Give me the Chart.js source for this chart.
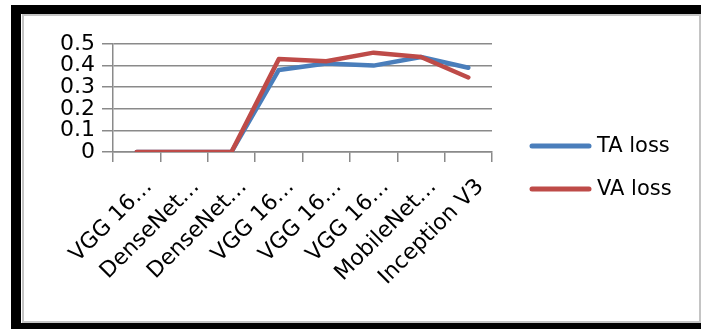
<!DOCTYPE html>
<html>
<head>
<meta charset="utf-8">
<script src="https://cdn.jsdelivr.net/npm/chart.js@4.4.1/dist/chart.umd.min.js"></script>
<style>
  html, body { margin: 0; padding: 0; background: #fff; width: 701px; height: 329px; overflow: hidden; }
  .band { position: absolute; background: #000; }
  #inner { position: absolute; left: 22px; top: 14px; width: 679px; height: 309px; box-sizing: border-box; border: 2px solid #c4c4c4; }
  #c { position: absolute; left: 0; top: 0; }
</style>
</head>
<body>
<div class="band" style="left:11px;top:5px;width:690px;height:9px"></div>
<div class="band" style="left:11px;top:5px;width:10px;height:324px"></div>
<div class="band" style="left:11px;top:323px;width:690px;height:6px"></div>
<div id="inner"></div>
<canvas id="c" width="701" height="329"></canvas>
<script>
const categories = ["VGG 16…", "DenseNet…", "DenseNet…", "VGG 16…", "VGG 16…", "VGG 16…", "MobileNet…", "Inception V3"];
const taLoss = [0, 0, 0, 0.38, 0.41, 0.40, 0.44, 0.39];
const vaLoss = [0, 0, 0, 0.43, 0.42, 0.46, 0.44, 0.345];
const yTicks = [0, 0.1, 0.2, 0.3, 0.4, 0.5];
const seriesNames = ["TA loss", "VA loss"];
const seriesColors = ["#4a7ebb", "#be4b48"];

const FONT = "'DejaVu Sans', sans-serif";
const GRID = "#8a8a8a";

const legendPlugin = {
  id: 'customLegend',
  afterDraw(chart) {
    const ctx = chart.ctx;
    ctx.save();
    chart.data.datasets.forEach((ds, i) => {
      const y = 146 + i * 43;
      ctx.strokeStyle = ds.borderColor;
      ctx.lineWidth = 5;
      ctx.lineCap = 'round';
      ctx.beginPath();
      ctx.moveTo(532, y);
      ctx.lineTo(589, y);
      ctx.stroke();
      ctx.fillStyle = '#000';
      ctx.font = "21px " + FONT;
      ctx.textBaseline = 'middle';
      ctx.textAlign = 'left';
      ctx.fillText(ds.label, 597, y + 1);
    });
    ctx.restore();
  }
};

new Chart(document.getElementById('c'), {
  type: 'line',
  data: {
    labels: categories,
    datasets: [
      { label: seriesNames[0], data: taLoss, borderColor: seriesColors[0], backgroundColor: seriesColors[0], order: 1 },
      { label: seriesNames[1], data: vaLoss, borderColor: seriesColors[1], backgroundColor: seriesColors[1], order: 0 }
    ]
  },
  options: {
    responsive: false,
    animation: false,
    devicePixelRatio: 1,
    layout: { padding: { left: 24, right: 209, top: 44, bottom: 8 } },
    elements: {
      point: { radius: 0, hoverRadius: 0 },
      line: { borderWidth: 4.5, tension: 0, borderJoinStyle: 'round', borderCapStyle: 'round' }
    },
    plugins: { legend: { display: false }, tooltip: { enabled: false } },
    scales: {
      x: {
        offset: true,
        grid: { offset: true, drawOnChartArea: false, drawTicks: true, tickLength: 10, color: GRID, lineWidth: 1.5 },
        border: { display: true, color: GRID, width: 1.5 },
        ticks: {
          autoSkip: false, maxRotation: 45, minRotation: 45,
          color: '#000', font: { family: FONT, size: 22 }, padding: 12, labelOffset: 12
        },
        afterFit(scale) { scale.height = 329 - 8 - 152; }
      },
      y: {
        min: 0, max: 0.5,
        afterBuildTicks(scale) { scale.ticks = yTicks.map(v => ({ value: v })); },
        grid: { color: GRID, lineWidth: 1.5, drawTicks: true, tickLength: 11 },
        border: { display: true, color: GRID, width: 1.5 },
        ticks: {
          autoSkip: false,
          color: '#000', font: { family: FONT, size: 22 }, padding: 7,
          callback: v => String(v)
        },
        afterFit(scale) { scale.width = 113 - 24; }
      }
    }
  },
  plugins: [legendPlugin]
});
</script>
</body>
</html>
